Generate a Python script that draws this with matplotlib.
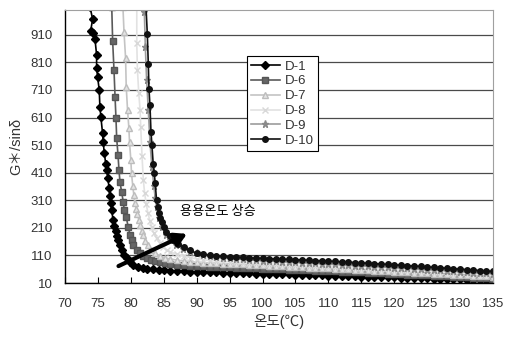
import matplotlib
matplotlib.use('Agg')
import matplotlib.pyplot as plt
import numpy as np

plt.rcParams['font.family'] = ['Liberation Sans', 'Noto Sans CJK KR', 'DejaVu Sans']

# ---- data (temperature in C, G*/sin(delta)) ----
labels = ['D-1', 'D-6', 'D-7', 'D-8', 'D-9', 'D-10']

D1_T_steep = [73.8, 74.2, 73.9, 74.3, 74.55, 74.8, 74.8, 74.95, 75.2, 75.3, 75.45, 75.7,
              75.8, 75.97, 76.2, 76.35, 76.5, 76.7, 76.8, 76.95, 77.1, 77.3, 77.5, 77.75,
              77.9, 78.1, 78.35, 78.6, 79.0, 79.4, 79.9, 80.4, 81.1, 81.8, 82.5, 83.3, 84.2, 85.0]
D1_G_steep = [1010, 967, 925, 918, 895, 837, 790, 757, 710, 648, 612, 554,
              521, 481, 440, 420, 390, 355, 325, 300, 274, 237, 218, 200,
              182, 165, 146, 128, 112, 99, 85, 75, 68, 63, 61, 59, 57, 55.5]
D1_tail_start = 86
D1_G_tail = [54.5, 53.5, 52.5, 51.5, 50.5, 49.8, 49, 48.3, 47.6, 47, 46.3, 45.6, 45, 44.3,
             43.6, 43, 42.3, 41.6, 41, 40.3, 39.6, 39, 38.3, 37.6, 37, 36.3, 35.6, 34.9,
             34.2, 33.5, 32.8, 32.1, 31.4, 30.7, 30, 29.3, 28.6, 27.9, 27.2, 26.5, 25.8,
             25.1, 24.4, 23.7, 23, 22.2, 21.4, 20.6, 19.8, 19]

D6_T_steep = [77.1, 77.24, 77.44, 77.6, 77.74, 77.85, 78.05, 78.2, 78.35, 78.6, 78.85, 79.0,
              79.3, 79.6, 79.9, 80.1, 80.4, 80.9, 81.4, 81.9, 82.4, 83.0, 83.7, 84.4, 85.2]
D6_G_steep = [1010, 886, 783, 686, 608, 535, 474, 419, 376, 340, 304, 274,
              249, 213, 183, 165, 146, 131, 118, 109, 102, 95, 89, 85, 81]
D6_tail_start = 86
D6_G_tail = [79, 77, 75, 73, 71.5, 70.5, 69.5, 68.6, 67.7, 66.8, 66, 65.1, 64.2, 63.3, 62.4,
             61.5, 60.6, 59.7, 58.8, 57.9, 57, 56.1, 55.2, 54.3, 53.4, 52.4, 51.4, 50.4, 49.4,
             48.4, 47.3, 46.2, 45.1, 44, 42.9, 41.8, 40.7, 39.6, 38.5, 37.4, 36.2, 35, 33.8,
             32.6, 31.4, 30.2, 29, 27.8, 26.6, 25.4]

D7_T_steep = [78.8, 78.96, 79.2, 79.3, 79.5, 79.7, 79.8, 80.0, 80.1, 80.3, 80.45, 80.6,
              80.8, 81.0, 81.2, 81.4, 81.65, 81.9, 82.2, 82.6, 83.1, 83.7, 84.4, 85.2]
D7_G_steep = [1010, 921, 826, 721, 637, 572, 521, 455, 408, 360, 330, 300,
              280, 260, 240, 222, 200, 183, 163, 146, 130, 118, 108, 101]
D7_tail_start = 86
D7_G_tail = [97, 93, 90, 87.5, 85.5, 84, 82.8, 81.6, 80.4, 79.3, 78.2, 77.1, 76, 74.9, 73.8,
             72.7, 71.6, 70.5, 69.4, 68.3, 67.2, 66.1, 65, 63.9, 62.8, 61.7, 60.6, 59.5, 58.4,
             57.3, 56.1, 54.9, 53.7, 52.5, 51.3, 50.1, 48.9, 47.7, 46.5, 45.3, 44, 42.7, 41.4,
             40.1, 38.8, 37.5, 36.2, 34.9, 33.6, 32.3]

D8_T_steep = [80.9, 80.9, 81.0, 81.2, 81.4, 81.5, 81.7, 81.9, 82.1, 82.35, 82.6, 82.9,
              83.2, 83.5, 83.9, 84.4, 84.9, 85.5]
D8_G_steep = [1010, 880, 783, 700, 637, 575, 470, 382, 335, 295, 263, 235,
              213, 190, 172, 154, 140, 128]
D8_tail_start = 86
D8_G_tail = [122, 115, 108, 102, 97, 94, 91.6, 89.7, 88, 86.5, 85.1, 83.8, 82.6, 81.5, 80.4,
             79.3, 78.2, 77.1, 76, 74.9, 73.8, 72.7, 71.6, 70.5, 69.4, 68.3, 67.2, 66.1, 65,
             63.9, 62.7, 61.5, 60.3, 59.1, 57.9, 56.7, 55.5, 54.3, 53.1, 51.9, 50.5, 49.1,
             47.7, 46.3, 44.9, 43.5, 42.1, 40.7, 39.3, 37.9]

D9_T_steep = [81.8, 82.05, 82.2, 82.4, 82.65, 82.9, 83.2, 83.5, 83.7, 83.9, 84.3, 84.7,
              85.3, 85.9, 86.9, 87.9, 89.0]
D9_G_steep = [1010, 994, 866, 746, 636, 523, 431, 360, 320, 286, 245, 213,
              185, 165, 148, 135, 124]
D9_tail_start = 90
D9_G_tail = [117, 112, 108, 105, 102, 99.6, 97.5, 95.6, 93.8, 92.1, 90.6, 89.4, 88.2, 87,
             85.8, 84.6, 83.4, 82.2, 81, 79.8, 78.6, 77.3, 76, 74.7, 73.4, 72.1, 70.8, 69.5,
             68.2, 66.9, 65.5, 64.1, 62.7, 61.3, 59.9, 58.5, 57, 55.5, 54, 52.5, 51, 49.5,
             48, 46.5, 45, 43.5]

D10_T_steep = [82.3, 82.5, 82.65, 82.75, 82.9, 83.06, 83.2, 83.4, 83.55, 83.7, 83.9, 84.1,
               84.3, 84.5, 84.7, 85.0, 85.4, 85.9, 86.4, 87.2, 88.0, 89.0]
D10_G_steep = [1010, 913, 804, 714, 655, 557, 510, 440, 410, 372, 310, 285,
               263, 245, 231, 212, 195, 180, 165, 152, 140, 128]
D10_tail_start = 90
D10_G_tail = [118, 114, 111, 108.5, 106.5, 105, 103.8, 102.6, 101.5, 100.4, 99.4, 98.4,
              97.4, 96.4, 95.4, 94.4, 93.4, 92.4, 91.4, 90.4, 89.3, 88.1, 86.9, 85.6, 84.3,
              83, 81.6, 80.2, 78.8, 77.4, 76, 74.5, 73, 71.5, 70, 68.4, 66.8, 65.2, 63.6, 62,
              60.3, 58.6, 56.9, 55.2, 53.5, 51.8]

xticks = list(range(70, 136, 5))
yticks = list(range(10, 1000, 100))


def series(t_steep, g_steep, start, g_tail):
    t = list(t_steep) + list(range(start, start + len(g_tail)))
    g = list(g_steep) + list(g_tail)
    return t, g


allSeries = [
    series(D1_T_steep, D1_G_steep, D1_tail_start, D1_G_tail),
    series(D6_T_steep, D6_G_steep, D6_tail_start, D6_G_tail),
    series(D7_T_steep, D7_G_steep, D7_tail_start, D7_G_tail),
    series(D8_T_steep, D8_G_steep, D8_tail_start, D8_G_tail),
    series(D9_T_steep, D9_G_steep, D9_tail_start, D9_G_tail),
    series(D10_T_steep, D10_G_steep, D10_tail_start, D10_G_tail),
]

styles = [
    dict(color='black', marker='D', ms=3.6, mfc='black', mec='black'),
    dict(color='#5a5a5a', marker='s', ms=4.0, mfc='#666666', mec='#555555'),
    dict(color='#c4c4c4', marker='^', ms=4.6, mfc='#e4e4e4', mec='#bdbdbd'),
    dict(color='#e2e2e2', marker='x', ms=4.0, mfc='#dcdcdc', mec='#d8d8d8', mew=1.0),
    dict(color='#9c9c9c', marker='*', ms=5.2, mfc='#8a8a8a', mec='#8a8a8a'),
    dict(color='#111111', marker='o', ms=4.0, mfc='#111111', mec='#111111'),
]

fig = plt.figure(figsize=(5.05, 3.37), dpi=100)
ax = fig.add_axes([65/505, 1-283/337, 428/505, 273/337])

for (t, g), lab, st in zip(allSeries, labels, styles):
    ax.plot(t, g, '-', lw=1.2, label=lab, **st)

ax.set_xlim(70, 135)
ax.set_ylim(10, 1000)
ax.set_xticks(xticks)
ax.set_yticks(yticks)
ax.yaxis.grid(True, color='#4a4a4a', lw=0.9)
ax.set_axisbelow(True)

ax.tick_params(axis='x', direction='in', length=4, width=0.8, labelsize=9.5,
               labelcolor='#333333', pad=11)
ax.tick_params(axis='y', length=0, labelsize=9.5, labelcolor='#333333', pad=9)
for s in ['top', 'right']:
    ax.spines[s].set_color('#a0a0a0')
for s in ['left', 'bottom']:
    ax.spines[s].set_color('black')
    ax.spines[s].set_linewidth(1.0)

ax.set_xlabel('온도(℃)', fontsize=10.5, color='#333333', labelpad=3)
ax.set_ylabel('G＊/sinδ', fontsize=10.5, color='#333333', labelpad=5)

leg = ax.legend(loc='upper left', bbox_to_anchor=(0.425, 0.83), fontsize=9.5,
                frameon=True, fancybox=False, edgecolor='black', framealpha=1,
                handlelength=2.2, labelspacing=0.2, borderpad=0.3,
                handletextpad=0.4, borderaxespad=0)
leg.get_frame().set_linewidth(0.8)
for txt in leg.get_texts():
    txt.set_color('#333333')

ax.annotate('', xy=(0.285, 0.18), xytext=(0.125, 0.062), xycoords='axes fraction',
            arrowprops=dict(arrowstyle='-|>,head_length=0.7,head_width=0.4',
                            lw=3.0, color='black', shrinkA=0, shrinkB=0))
ax.text(0.268, 0.262, '용용온도 상승', transform=ax.transAxes, fontsize=9.5,
        va='center', ha='left', color='black', family='Noto Sans CJK KR')

plt.savefig('out.png', dpi=100)
